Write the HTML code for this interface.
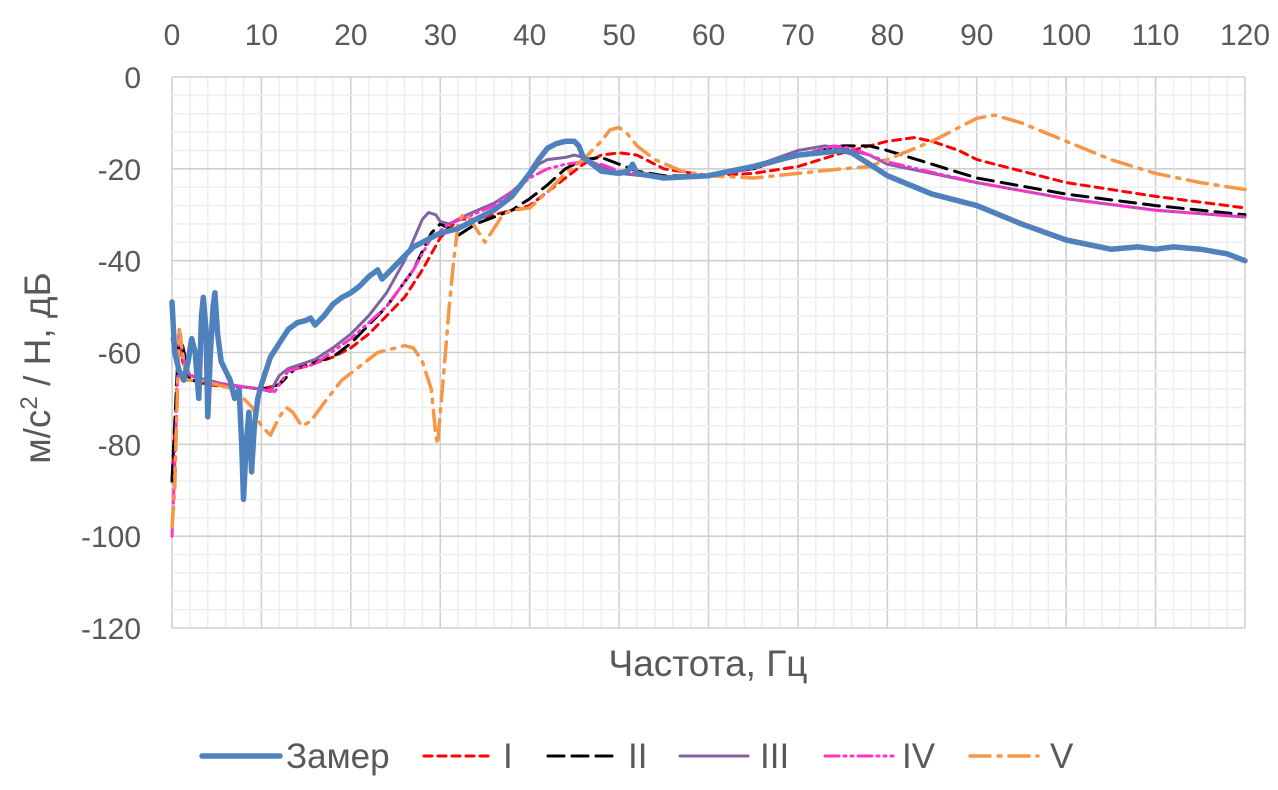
<!DOCTYPE html>
<html><head><meta charset="utf-8"><style>
body{margin:0;background:#fff}
svg text{font-family:"Liberation Sans",sans-serif;fill:#595959}
</style></head><body>
<svg id="chart" width="1278" height="785" xmlns="http://www.w3.org/2000/svg">
<g id="grid"></g>
<g id="ticks"></g>
<g id="series"></g>
<text transform="translate(50,368) rotate(-90)" text-anchor="middle" font-size="37">м/с<tspan font-size="24" dy="-13">2</tspan><tspan dy="13"> / Н, дБ</tspan></text>
<text x="708" y="676" text-anchor="middle" font-size="37">Частота, Гц</text>
<g id="legend"></g>
</svg>
<script>
const xTicks=[0,10,20,30,40,50,60,70,80,90,100,110,120];
const yTicks=[0,-20,-40,-60,-80,-100,-120];
const zamerF=[0,0.3,0.8,1.3,1.8,2.2,2.6,3.0,3.3,3.5,3.8,4.0,4.3,4.6,4.8,5.1,5.5,6.0,6.5,7.0,7.5,7.8,8.0,8.3,8.6,8.9,9.2,9.6,10,10.5,11,12,13,14,15,15.5,16,17,18,19,20,21,22,23,23.5,24,25,26,27,28,29,30,32,34,36,38,40,41,42,43,44,45,45.5,46,47,48,50,51,51.5,52,55,60,65,70,75,76,78,80,85,90,95,100,105,108,110,112,115,118,120];
const zamerV=[-49,-60,-64,-66,-62,-57,-60,-70,-52,-48,-55,-74,-60,-50,-47,-56,-62,-64,-66,-70,-68,-80,-92,-80,-73,-86,-76,-70,-67,-64,-61,-58,-55,-53.5,-53,-52.5,-54,-52,-49.5,-48,-47,-45.5,-43.5,-42,-44,-43,-41,-39,-37,-36,-35,-34,-33,-31,-29,-26,-21,-18,-15.5,-14.5,-14,-14,-15,-17.5,-19,-20.5,-21,-20.5,-19,-21,-22,-21.5,-19.5,-17,-16,-16.5,-19,-21.5,-25.5,-28,-32,-35.5,-37.5,-37,-37.5,-37,-37.5,-38.5,-40];
const s1F=[0,0.5,0.8,1.2,2,4,6,8,10,12,13,15,18,20,22,24,26,28,30,32,34,36,38,40,42,44,46,48,50,52,55,60,65,70,75,80,83,85,88,90,95,100,110,120];
const s1V=[-88,-70,-55,-62,-66,-67,-67.5,-67.5,-68,-67,-64,-63,-61,-59,-56,-52,-48,-42,-35,-31,-31,-30,-29,-28,-25,-22,-19,-17,-16.5,-17,-20,-21.5,-21,-19.5,-16.5,-14,-13.2,-14,-16,-18,-20.5,-23,-26,-28.5];
const s2F=[0,0.8,2,10,12,14,18,20,24,27,29,30,31,32,34,38,40,42,44,46,48,50,52,55,60,65,70,75,78,80,85,90,100,110,120];
const s2V=[-88,-55,-66,-68,-67,-63,-61,-58,-50,-42,-34,-32,-33,-34.5,-32,-29,-26.5,-23.5,-20,-18,-17.5,-19,-20.5,-21.5,-21.5,-20,-17,-15,-15,-16,-19,-22,-25.5,-28,-30];
const s3F=[0,0.5,1,2,4,6,8,10,11,12,13,16,18,20,22,24,26,28,28.7,29.5,30,31,32,33,36,38,40,41,42,44,45,46,48,50,55,60,65,70,73,75,78,80,90,100,110,120];
const s3V=[-57,-62,-60,-65,-66,-67,-67.5,-68,-68.5,-65,-63.5,-61.5,-59,-56,-52,-47,-40,-31,-29.5,-30,-31.5,-32,-31,-30,-27.5,-25,-21.5,-19,-18,-17.5,-17,-17.5,-19.5,-21,-22,-21.5,-19.5,-16,-15,-15.5,-17,-19,-23,-26.5,-29,-30.5];
const s4F=[0,0.3,0.8,1.5,3,10,11.5,13,16,20,24,27,29,31,33,36,40,42,44,46,48,50,55,60,65,70,74,76,80,90,100,110,120];
const s4V=[-100,-85,-55,-64,-66,-68,-68.5,-64,-62.5,-57,-50,-42,-35,-32,-30.5,-28,-22,-20,-19,-18.5,-19,-20.5,-22,-21.5,-20,-17,-15,-15.5,-18.5,-23,-26.5,-29,-30.5];
const s5F=[0,0.3,0.8,1.2,1.6,3,5,7,9,10,11,12,12.8,13.5,14.5,15.5,17,19,21,23,25,26,27,28,29,29.5,29.7,30,30.5,31,31.5,32,32.5,33,34,35,36,37,38,40,42,44,46,48,49,50,51,52,54,57,60,65,70,75,78,80,85,90,92,95,100,105,110,115,120];
const s5V=[-98,-90,-55,-60,-66,-66,-67,-68,-72,-76,-78,-74,-72,-73,-76,-75,-71,-66,-63,-60,-59,-58.5,-59,-62,-68,-78,-80,-73,-62,-50,-40,-32,-30,-30,-33,-36,-33,-30,-29,-28.5,-25,-21,-18,-14,-11.5,-11,-12.5,-15,-18,-20.5,-21.5,-22,-21,-20,-19.5,-18,-14,-9,-8.3,-10,-14,-18,-21,-23,-24.5];

const X0=172,X1=1245,Y0=77,Y1=628;
const xs=f=>X0+(f/120)*(X1-X0);
const ys=v=>Y0+(-v/120)*(Y1-Y0);
const NS="http://www.w3.org/2000/svg";
function mk(tag,parent){const e=document.createElementNS(NS,tag);parent.appendChild(e);return e;}
const grid=document.getElementById('grid');
for(let f=0;f<=120;f+=2){const l=mk('line',grid);


l.setAttribute('x1',xs(f));l.setAttribute('x2',xs(f));l.setAttribute('y1',Y0);l.setAttribute('y2',Y1);
l.setAttribute('stroke',f%10===0?'#d0d0d0':'#efefef');l.setAttribute('stroke-width',1.6);}
for(let v=0;v>=-120;v-=4){const l=mk('line',grid);


l.setAttribute('y1',ys(v));l.setAttribute('y2',ys(v));l.setAttribute('x1',X0);l.setAttribute('x2',X1);
l.setAttribute('stroke',v%20===0?'#d0d0d0':'#efefef');l.setAttribute('stroke-width',1.6);}
const tk=document.getElementById('ticks');
xTicks.forEach(f=>{const t=mk('text',tk);


t.setAttribute('x',xs(f));t.setAttribute('y',45);t.setAttribute('text-anchor','middle');t.setAttribute('font-size','30');t.textContent=f;});
yTicks.forEach(v=>{const t=mk('text',tk);


t.setAttribute('x',141);t.setAttribute('y',ys(v)+11);t.setAttribute('text-anchor','end');t.setAttribute('font-size','30');t.textContent=v;});
const styles=[
 {F:zamerF,V:zamerV,c:'#4f81bd',w:5.5,d:'',n:'Замер',lx:202,tx:286},
 {F:s1F,V:s1V,c:'#ff0000',w:3,d:'8 6',n:'I',lx:424,tx:503},
 {F:s2F,V:s2V,c:'#000000',w:3,d:'16 8',n:'II',lx:548,tx:628},
 {F:s3F,V:s3V,c:'#8064a2',w:3,d:'',n:'III',lx:680,tx:760},
 {F:s4F,V:s4V,c:'#ff33cc',w:3,d:'14 5 2 5 2 5',n:'IV',lx:825,tx:902},
 {F:s5F,V:s5V,c:'#f79646',w:3.5,d:'20 8 3 8',n:'V',lx:970,tx:1050}];
const sg=document.getElementById('series');
const lg=document.getElementById('legend');
styles.slice(1).concat([styles[0]]).forEach(s=>{
 const p=mk('path',sg);
 
 
 p.setAttribute('d',s.F.map((f,i)=>(i?'L':'M')+xs(f).toFixed(1)+','+ys(s.V[i]).toFixed(1)).join(''));
 p.setAttribute('fill','none');p.setAttribute('stroke',s.c);p.setAttribute('stroke-width',s.w);
 p.setAttribute('stroke-linejoin','round');p.setAttribute('stroke-linecap','round');
 if(s.d)p.setAttribute('stroke-dasharray',s.d);
});
styles.forEach(s=>{
 const l=mk('line',lg);
 
 
 l.setAttribute('x1',s.lx);l.setAttribute('x2',s.lx+(s.n==='Замер'?78:68));l.setAttribute('y1',756);l.setAttribute('y2',756);
 l.setAttribute('stroke',s.c);l.setAttribute('stroke-width',s.w);l.setAttribute('stroke-linecap','round');
 if(s.d)l.setAttribute('stroke-dasharray',s.d);
 const t=mk('text',lg);
 
 
 t.setAttribute('x',s.tx);t.setAttribute('y',768);t.setAttribute('font-size','35');t.textContent=s.n;
});
</script>
</body></html>
